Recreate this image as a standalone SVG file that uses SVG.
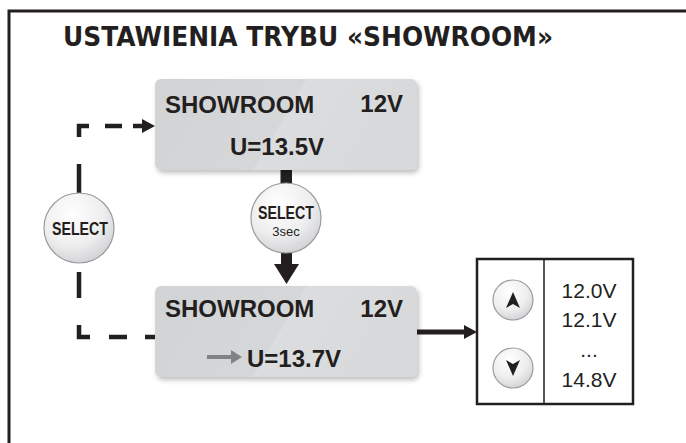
<svg xmlns="http://www.w3.org/2000/svg" width="686" height="443" viewBox="0 0 686 443">
<defs>
<linearGradient id="boxg" x1="0" y1="0" x2="1" y2="0.206">
<stop offset="0" stop-color="#d2d3d5"/>
<stop offset="0.556" stop-color="#d6d7d9"/>
<stop offset="0.556" stop-color="#dcdddf"/>
<stop offset="1" stop-color="#d8d9db"/>
</linearGradient>
<radialGradient id="btng" cx="0.4" cy="0.3" r="0.75">
<stop offset="0" stop-color="#ffffff"/>
<stop offset="0.6" stop-color="#eeeeef"/>
<stop offset="1" stop-color="#cfd0d2"/>
</radialGradient>
<filter id="sh" x="-10%" y="-10%" width="125%" height="130%">
<feDropShadow dx="2" dy="3" stdDeviation="2.5" flood-color="#000" flood-opacity="0.25"/>
</filter>
</defs>
<style>
.box{fill:url(#boxg);filter:url(#sh)}
.bt{font-family:"Liberation Sans",Arial,sans-serif;font-weight:bold;font-size:24px;fill:#231f20}
.rt{font-family:"Liberation Sans",Arial,sans-serif;font-size:21px;fill:#231f20;text-anchor:middle}
.btn{fill:url(#btng);stroke:#9a9b9d;stroke-width:1.2}
.sel{font-family:"Liberation Sans",Arial,sans-serif;font-weight:bold;font-size:18px;fill:#231f20;text-anchor:middle}
.dash{fill:none;stroke:#231f20;stroke-width:4.5}
</style>
<rect width="686" height="443" fill="#ffffff"/>
<path d="M9,443 V11 H686" fill="none" stroke="#231f20" stroke-width="3"/>
<text x="63" y="46" font-family="'DejaVu Sans',Verdana,sans-serif" font-weight="bold" font-size="27" fill="#231f20" textLength="490" lengthAdjust="spacingAndGlyphs">USTAWIENIA TRYBU «SHOWROOM»</text>

<g id="connectors">
<line class="dash" x1="79" y1="193" x2="79" y2="164"/>
<polyline class="dash" points="79,137 79,126 89,126"/>
<line class="dash" x1="105" y1="126" x2="122" y2="126"/>
<line class="dash" x1="133" y1="126" x2="144" y2="126"/>
<polygon points="142,119 155,126 142,133" fill="#231f20"/>
<line class="dash" x1="79" y1="272" x2="79" y2="298"/>
<polyline class="dash" points="79,325 79,337 90,337"/>
<line class="dash" x1="109" y1="337" x2="127" y2="337"/>
<line class="dash" x1="145" y1="337" x2="156" y2="337"/>
<rect x="280.5" y="170" width="11.5" height="14" fill="#231f20"/>
<rect x="281" y="252" width="11" height="13" fill="#231f20"/>
<polygon points="274,264 299,264 286.5,284" fill="#231f20"/>
<line x1="416" y1="332" x2="466" y2="332" stroke="#231f20" stroke-width="5"/>
<polygon points="464,325 477,332 464,339" fill="#231f20"/>
</g>

<g id="box-top">
<rect class="box" x="155" y="79" width="262" height="91" rx="6"/>
<text class="bt" x="165" y="113">SHOWROOM</text>
<text class="bt" x="403" y="112" text-anchor="end">12V</text>
<text class="bt" x="230" y="155">U=13.5V</text>
</g>

<g id="box-bottom">
<rect class="box" x="155" y="286" width="262" height="91" rx="6"/>
<text class="bt" x="165" y="317">SHOWROOM</text>
<text class="bt" x="403" y="317" text-anchor="end">12V</text>
<line x1="207" y1="357" x2="233" y2="357" stroke="#808285" stroke-width="4"/>
<polygon points="231,350 242,357 231,364" fill="#808285"/>
<text class="bt" x="247" y="367">U=13.7V</text>
</g>

<g id="select-left">
<circle class="btn" cx="79" cy="228" r="35"/>
<text class="sel" x="80" y="235" textLength="56" lengthAdjust="spacingAndGlyphs">SELECT</text>
</g>

<g id="select-3sec">
<circle class="btn" cx="286" cy="218" r="35"/>
<text class="sel" x="286" y="219" textLength="56" lengthAdjust="spacingAndGlyphs">SELECT</text>
<text x="286" y="236" font-family="'Liberation Sans',Arial,sans-serif" font-size="13" fill="#231f20" text-anchor="middle">3sec</text>
</g>

<g id="panel">
<rect x="477" y="259" width="156" height="145" fill="#ffffff" stroke="#231f20" stroke-width="2.5"/>
<line x1="544" y1="259" x2="544" y2="404" stroke="#231f20" stroke-width="1.5"/>
<circle class="btn" cx="513" cy="300" r="20"/>
<polygon points="513,292 520,308 513,304 506,308" fill="#231f20"/>
<circle class="btn" cx="513" cy="368" r="20"/>
<polygon points="513,376 520,360 513,364 506,360" fill="#231f20"/>
<text class="rt" x="589" y="298">12.0V</text>
<text class="rt" x="589" y="327">12.1V</text>
<text class="rt" x="589" y="357">...</text>
<text class="rt" x="589" y="387">14.8V</text>
</g>
</svg>
